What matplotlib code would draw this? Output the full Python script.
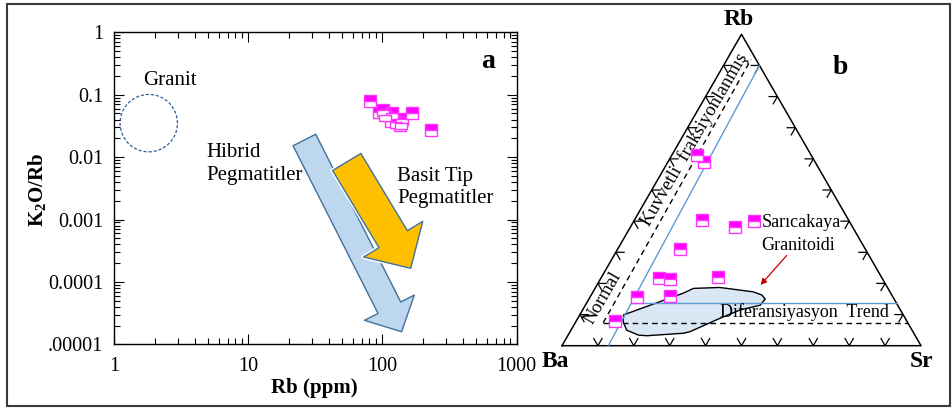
import numpy as np
import matplotlib
matplotlib.use("Agg")
import matplotlib.pyplot as plt
from matplotlib.patches import Rectangle, Circle, Polygon, FancyArrowPatch
from matplotlib.ticker import LogLocator, NullFormatter
import matplotlib.transforms as mtransforms
import matplotlib.patheffects as pe

plt.rcParams['font.family'] = ['Liberation Serif', 'DejaVu Serif']
plt.rcParams['mathtext.fontset'] = 'custom'
plt.rcParams['mathtext.rm'] = 'Liberation Serif'
plt.rcParams['mathtext.bf'] = 'Liberation Serif:bold'

# panel a : Rb (ppm) vs K2O/Rb
rb_a = [81.5, 95, 101, 117, 115.5, 135, 141, 126, 167, 231, 104, 138]
k2o_rb_a = [0.080, 0.052, 0.057, 0.0505, 0.0376, 0.0321, 0.0405, 0.0365, 0.0505, 0.0269, 0.048, 0.035]

# granit field (centre of circle)
granit_rb = 1.81
granit_k = 0.035

# trend arrows: (start Rb, start K2O/Rb) -> (end Rb, end K2O/Rb)
hibrid_arrow = [(26.2, 0.0188), (139, 1.59e-5)]
basit_arrow = [(54.2, 0.00834), (162.6, 1.65e-4)]

xticks = [1, 10, 100, 1000]
xticklabels = ['1', '10', '100', '1000']
yticks = [1e-5, 1e-4, 1e-3, 1e-2, 1e-1, 1]
yticklabels = ['.00001', '0.0001', '0.001', '0.01', '0.1', '1']

# panel b : Rb-Ba-Sr ternary (fractions), Ba = 1 - Rb - Sr
rb_b = [0.611, 0.589, 0.404, 0.382, 0.401, 0.311, 0.217, 0.214, 0.221, 0.156, 0.159, 0.080]
sr_b = [0.070, 0.102, 0.187, 0.291, 0.335, 0.172, 0.161, 0.194, 0.325, 0.132, 0.221, 0.108]

# Saricakaya granitoid field outline (Rb, Sr fractions)
field_rb = [0.099, 0.169, 0.184, 0.187, 0.173, 0.163, 0.150, 0.130, 0.115, 0.088,
            0.045, 0.040, 0.032, 0.034, 0.050, 0.077]
field_sr = [0.122, 0.254, 0.274, 0.346, 0.446, 0.475, 0.491, 0.487, 0.439, 0.396,
            0.334, 0.318, 0.220, 0.196, 0.155, 0.132]

H = np.sqrt(3) / 2


def tern(rb, sr):
    rb = np.asarray(rb, dtype=float)
    sr = np.asarray(sr, dtype=float)
    return sr + rb / 2, rb * H


fig = plt.figure(figsize=(9.52, 4.08), dpi=100)

# outer frame
fig.add_artist(Rectangle((7 / 952, 2.5 / 408), 943 / 952, 402 / 408,
                         transform=fig.transFigure, fill=False,
                         ec='#3a3a3a', lw=1.5))

# ---------------- panel a ----------------
ax = fig.add_axes([114.2 / 952, (408 - 344.3) / 408, 402.3 / 952, 312 / 408])
ax.set_xscale('log')
ax.set_yscale('log')
ax.set_xlim(1, 1000)
ax.set_ylim(1e-5, 1)
ax.set_xticks(xticks)
ax.set_xticklabels(xticklabels)
ax.set_yticks(yticks)
ax.set_yticklabels(yticklabels)
ax.xaxis.set_minor_locator(LogLocator(base=10, subs=np.arange(2, 10)))
ax.yaxis.set_minor_locator(LogLocator(base=10, subs=np.arange(2, 10)))
ax.xaxis.set_minor_formatter(NullFormatter())
ax.yaxis.set_minor_formatter(NullFormatter())
ax.tick_params(which='both', direction='in', top=True, right=True, width=0.8)
ax.tick_params(which='major', length=7, labelsize=14.5)
ax.tick_params(which='minor', length=4)
ax.tick_params(axis='x', pad=9)
ax.tick_params(axis='y', pad=8)
for s in ax.spines.values():
    s.set_linewidth(1.0)

ax.text(-0.191, 0.494, r'K$_\mathbf{2}$O/Rb', transform=ax.transAxes, rotation=90,
        ha='center', va='center', fontsize=15, fontweight='bold')
ax.text(0.497, -0.141, 'Rb (ppm)', transform=ax.transAxes,
        ha='center', va='center', fontsize=15, fontweight='bold')

# granit circle (round on screen)
ctrans = fig.dpi_scale_trans + mtransforms.ScaledTranslation(granit_rb, granit_k, ax.transData)
ax.add_patch(Circle((0, 0), 0.287, transform=ctrans, fill=False,
                    ec='#2f5f9a', lw=0.9, ls=(0, (2.5, 1.5))))
ax.text(0.073, 0.847, 'Granit', transform=ax.transAxes, ha='left', va='center', fontsize=15)

ax.add_patch(FancyArrowPatch(hibrid_arrow[0], hibrid_arrow[1],
                             arrowstyle='simple,head_length=19.4,head_width=40.2,tail_width=18.3',
                             mutation_scale=1, shrinkA=0, shrinkB=0,
                             fc='#bdd7ee', ec='#41719c', lw=1.0))
ax.add_patch(FancyArrowPatch(basit_arrow[0], basit_arrow[1],
                             arrowstyle='simple,head_length=24.5,head_width=49.7,tail_width=23.8',
                             mutation_scale=1, shrinkA=0, shrinkB=0,
                             fc='#ffc000', ec='#41719c', lw=1.0,
                             path_effects=[pe.Stroke(linewidth=3, foreground='white'), pe.Normal()]))

ax.text(0.230, 0.578, 'Hibrid\nPegmatitler', transform=ax.transAxes,
        ha='left', va='center', fontsize=15, linespacing=1.25)
ax.text(0.703, 0.503, 'Basit Tip\nPegmatitler', transform=ax.transAxes,
        ha='left', va='center', fontsize=15, linespacing=1.25)
ax.text(0.930, 0.906, 'a', transform=ax.transAxes, ha='center', va='center',
        fontsize=20, fontweight='bold')

ax.plot(rb_a, k2o_rb_a, ls='none', marker='s', ms=9, fillstyle='top',
        mfc='#ff00ff', markerfacecoloralt='white', mec='#ff33ff', mew=1.0, zorder=5)

# ---------------- panel b ----------------
bx = fig.add_axes([562 / 952, (408 - 345.7) / 408, 359 / 952, 311.4 / 408])
bx.set_xlim(0, 1)
bx.set_ylim(0, H)
bx.axis('off')

bx.plot([0, 1, 0.5, 0], [0, 0, H, 0], color='black', lw=1.1, clip_on=False, zorder=3)

# chevron ticks every 10 %
L = 0.023
for i in range(1, 10):
    t = i / 10
    # bottom (Ba-Sr)
    px, py = t, 0
    bx.plot([px + L * np.cos(np.radians(120)), px, px + L * np.cos(np.radians(60))],
            [L * np.sin(np.radians(120)), 0, L * np.sin(np.radians(60))],
            color='black', lw=0.9, clip_on=False)
    # left (Ba-Rb)
    px, py = t / 2, t * H
    bx.plot([px + L, px, px + L * 0.5], [py, py, py - L * H],
            color='black', lw=0.9, clip_on=False)
    # right (Sr-Rb)
    px, py = 1 - t / 2, t * H
    bx.plot([px - L, px, px - L * 0.5], [py, py, py - L * H],
            color='black', lw=0.9, clip_on=False)

# Saricakaya field
fx, fy = tern(field_rb, field_sr)
bx.add_patch(Polygon(np.column_stack([fx, fy]), closed=True, fc='#dae8f5',
                     ec='black', lw=1.0, zorder=2))

# trend lines
x1, y1 = tern([0.074, 0.919], [0.078, 0.067])
bx.plot(x1, y1, color='black', lw=1.0, ls=(0, (4, 3)), zorder=3)
x2, y2 = tern([0.074, 0.074], [0.078, 0.926])
bx.plot(x2, y2, color='black', lw=1.0, ls=(0, (4, 3)), zorder=3)
x3, y3 = tern([0.0, 0.90], [0.129, 0.10])
bx.plot(x3, y3, color='#5b9bd5', lw=1.0, zorder=3)
x4, y4 = tern([0.136, 0.136], [0.125, 0.864])
bx.plot(x4, y4, color='#5b9bd5', lw=1.0, zorder=3)

bx.plot(*tern(rb_b, sr_b), ls='none', marker='s', ms=9, fillstyle='top',
        mfc='#ff00ff', markerfacecoloralt='white', mec='#ff33ff', mew=1.0,
        zorder=5, clip_on=False)

bx.text(0.493, 0.907, 'Rb', ha='center', va='center', fontsize=17, fontweight='bold')
bx.text(-0.0175, -0.0426, 'Ba', ha='center', va='center', fontsize=17, fontweight='bold')
bx.text(1.002, -0.0426, 'Sr', ha='center', va='center', fontsize=17, fontweight='bold')
bx.text(0.774, 0.773, 'b', ha='center', va='center', fontsize=20, fontweight='bold')

bx.text(0.370, 0.573, 'Kuvvetli  fraksiyonlanmış', rotation=60, rotation_mode='anchor',
        ha='center', va='center', fontsize=13.5)
bx.text(0.115, 0.132, 'Normal', rotation=60, rotation_mode='anchor',
        ha='center', va='center', fontsize=13.5)
bx.text(0.556, 0.343, 'Sarıcakaya', ha='left', va='center', fontsize=13)
bx.text(0.556, 0.280, 'Granitoidi', ha='left', va='center', fontsize=13)
bx.text(0.440, 0.093, 'Diferansiyasyon  Trend', ha='left', va='center', fontsize=13)

bx.annotate('', xy=(0.553, 0.169), xytext=(0.626, 0.251),
            arrowprops=dict(arrowstyle='-|>', color='#c00000', lw=0.9,
                            mutation_scale=9, shrinkA=0, shrinkB=0))

fig.savefig('out.png', dpi=100)
